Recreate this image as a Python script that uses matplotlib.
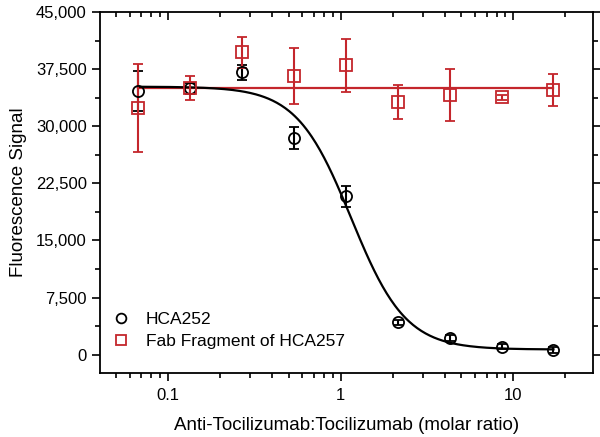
import matplotlib
matplotlib.use("Agg")
import matplotlib.pyplot as plt
from matplotlib.ticker import FuncFormatter, MultipleLocator, LogLocator, NullFormatter
from matplotlib.lines import Line2D
import numpy as np

plt.rcParams['font.family'] = ['Liberation Sans', 'DejaVu Sans']

# molar ratio (two-fold dilutions)
ratio = [0.0668, 0.1336, 0.267, 0.534, 1.069, 2.14, 4.28, 8.55, 17.1]

# HCA252
hca252 = [34600, 35000, 37100, 28500, 20800, 4250, 2200, 1050, 620]
hca252_err = [2600, 700, 1000, 1450, 1400, 300, 450, 350, 350]

# Fab fragment of HCA257
fab = [32400, 35000, 39700, 36600, 38000, 33200, 34100, 33800, 34700]
fab_err = [5800, 1550, 2000, 3650, 3500, 2200, 3400, 300, 2100]

# fitted models
fit_top, fit_bottom, fit_ec50, fit_hill = 35200, 680, 1.15, 2.75
fab_level = 35050

red = '#c4262c'

fig = plt.figure(figsize=(6, 4.37), dpi=100)
ax = fig.add_axes([0.1667, 0.1465, 0.8213, 0.826])

xs = np.logspace(np.log10(ratio[0]), np.log10(ratio[-1]), 300)
curve = fit_bottom + (fit_top - fit_bottom) / (1 + (xs / fit_ec50) ** fit_hill)
ax.plot(xs, curve, color='black', lw=1.6, zorder=3)
ax.plot([ratio[0], ratio[-1]], [fab_level, fab_level], color=red, lw=1.6, zorder=2)

ax.errorbar(ratio, hca252, yerr=hca252_err, fmt='o', ms=8, mfc='none', mec='black',
            mew=1.3, ecolor='black', elinewidth=1.5, capsize=3.5, capthick=1.5, zorder=4)
ax.errorbar(ratio, fab, yerr=fab_err, fmt='s', ms=8, mfc='none', mec=red,
            mew=1.3, ecolor=red, elinewidth=1.5, capsize=3.5, capthick=1.5, zorder=4)

ax.set_xscale('log')
ax.set_xlim(0.0403, 28.9)
ax.set_ylim(-2400, 45000)
ax.yaxis.set_major_locator(MultipleLocator(7500))
ax.yaxis.set_minor_locator(MultipleLocator(3750))
ax.yaxis.set_major_formatter(FuncFormatter(lambda v, p: f'{int(v):,}'))
ax.xaxis.set_major_locator(LogLocator(base=10))
ax.xaxis.set_minor_locator(LogLocator(base=10, subs=np.arange(2, 10)))
ax.xaxis.set_minor_formatter(NullFormatter())
ax.xaxis.set_major_formatter(FuncFormatter(lambda v, p: f'{v:g}'))

for s in ax.spines.values():
    s.set_linewidth(1.3)
ax.tick_params(which='both', width=1.2, labelsize=12)
ax.tick_params(which='major', length=6)
ax.tick_params(which='minor', length=3.5)
ax.tick_params(axis='both', which='both', top=True, right=True)
ax.tick_params(axis='x', which='both', direction='out', pad=5)
ax.tick_params(axis='y', which='both', direction='out')
# top and right ticks point inward
for t in ax.xaxis.get_major_ticks() + ax.xaxis.get_minor_ticks():
    t.tick2line.set_marker(3)
for t in ax.yaxis.get_major_ticks() + ax.yaxis.get_minor_ticks():
    t.tick2line.set_marker(1)

ax.set_xlabel('Anti-Tocilizumab:Tocilizumab (molar ratio)', fontsize=13.5, labelpad=10)
ax.set_ylabel('Fluorescence Signal', fontsize=13.5, labelpad=6)

handles = [Line2D([], [], ls='none', marker='o', ms=7, mfc='none', mec='black', mew=1.3),
           Line2D([], [], ls='none', marker='s', ms=7, mfc='none', mec=red, mew=1.3)]
ax.legend(handles, ['HCA252', 'Fab Fragment of HCA257'], loc='lower left',
          bbox_to_anchor=(0.0, 0.032), frameon=False, fontsize=12.5,
          handlelength=1.0, borderaxespad=0.3, handletextpad=0.95, labelspacing=0.4)

fig.savefig('out.png', dpi=100)
